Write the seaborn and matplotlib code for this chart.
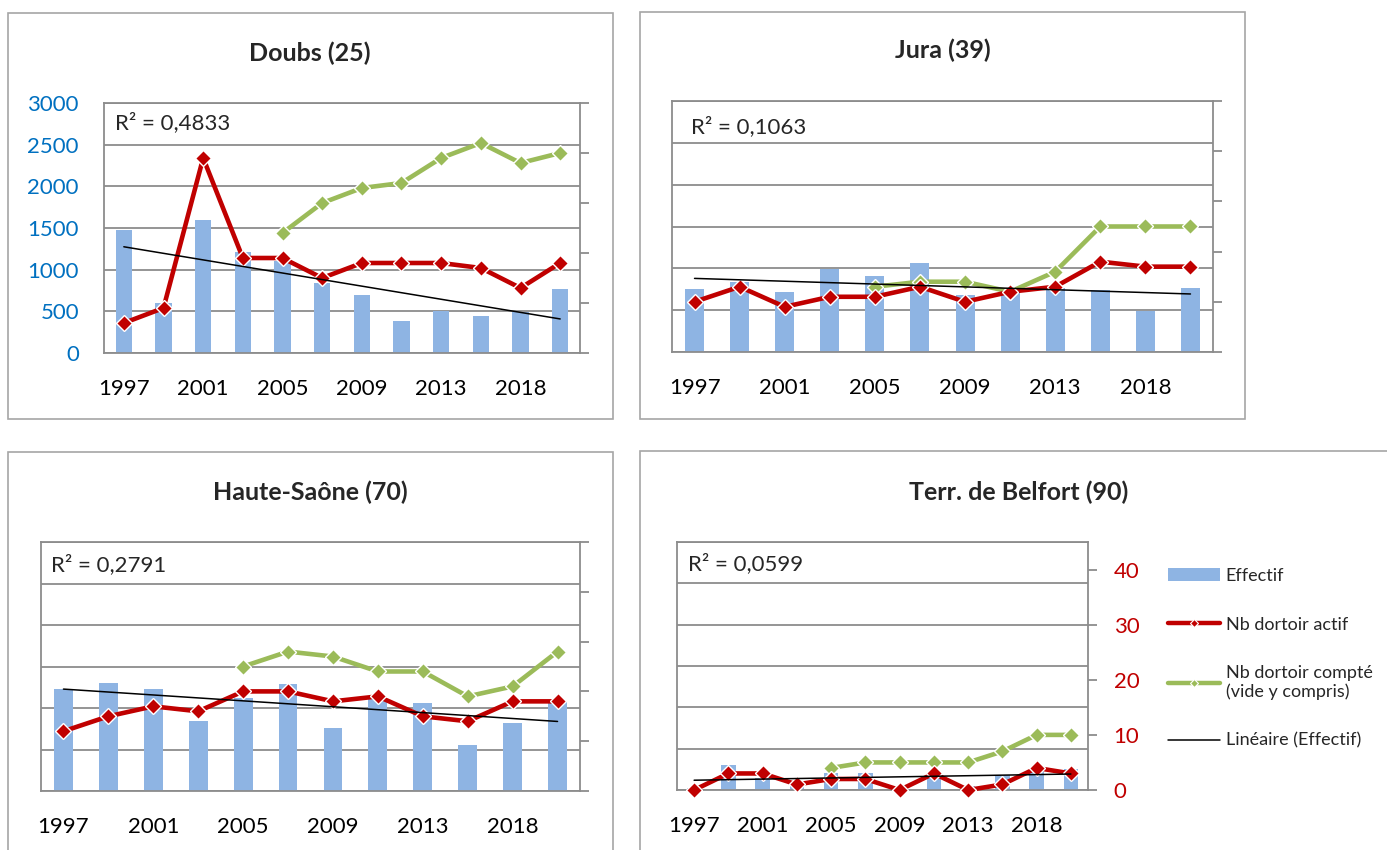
import numpy as np
import pandas as pd
import matplotlib
matplotlib.use("Agg")
import matplotlib.pyplot as plt
import seaborn as sns
from matplotlib.patches import Rectangle
from matplotlib.lines import Line2D

# ---- data -------------------------------------------------------------
years = ["1997", "1999", "2001", "2003", "2005", "2007",
         "2009", "2011", "2013", "2016", "2018", "2020"]

doubs_effectif = [1470, 600, 1590, 1210, 1100, 840, 700, 380, 500, 450, 490, 770]
doubs_actif = [6, 9, 39, 19, 19, 15, 18, 18, 18, 17, 13, 18]
doubs_compte = [np.nan, np.nan, np.nan, np.nan, 24, 30, 33, 34, 39, 42, 38, 40]

jura_effectif = [750, 840, 720, 990, 910, 1060, 680, 720, 770, 740, 490, 770]
jura_actif = [10, 13, 9, 11, 11, 13, 10, 12, 13, 18, 17, 17]
jura_compte = [np.nan, np.nan, np.nan, np.nan, 13, 14, 14, 12, 16, 25, 25, 25]

hs_effectif = [1230, 1300, 1225, 840, 1120, 1285, 760, 1120, 1065, 560, 820, 1070]
hs_actif = [12, 15, 17, 16, 20, 20, 18, 19, 15, 14, 18, 18]
hs_compte = [np.nan, np.nan, np.nan, np.nan, 25, 28, 27, 24, 24, 19, 21, 28]

bel_effectif = [30, 300, 150, 50, 200, 200, 30, 180, 50, 180, 250, 250]
bel_actif = [0, 3, 3, 1, 2, 2, 0, 3, 0, 1, 4, 3]
bel_compte = [np.nan, np.nan, np.nan, np.nan, 4, 5, 5, 5, 5, 7, 10, 10]

# ---- style ------------------------------------------------------------
BLUE = "#8EB4E3"
RED = "#C00000"
GREEN = "#9BBB59"
GRID = "#8C8C8C"
FRAME = "#A6A6A6"

sns.set_style("white")
plt.rcParams['font.family'] = ['Lato', 'DejaVu Sans']

W, H = 1387, 850
fig = plt.figure(figsize=(W / 100, H / 100), dpi=100)


def draw_panel(plot_px, frame_px, title, title_px, effectif, actif, compte,
               r2_text, r2_off, sec_max=50, left_labels=False, right_labels=False):
    # outer chart frame
    fx0, fy0, fx1, fy1 = frame_px
    fig.patches.append(Rectangle((fx0 / W, 1 - fy1 / H), (fx1 - fx0) / W, (fy1 - fy0) / H,
                                 transform=fig.transFigure, fill=False,
                                 ec=FRAME, lw=1.2, zorder=0))
    fig.text(title_px[0] / W, 1 - title_px[1] / H, title, ha="center", va="center",
             fontsize=18, fontweight="bold")

    l, t, r, b = plot_px
    ax = fig.add_axes([l / W, 1 - b / H, (r - l) / W, (b - t) / H])
    pos = np.arange(len(years))

    sns.barplot(x=years, y=effectif, ax=ax, color=BLUE, saturation=1,
                width=0.42, order=years, linewidth=0)
    ax.set_ylim(0, 3000)
    ax.set_yticks(np.arange(0, 3001, 500))
    ax.set_xlim(-0.5, len(years) - 0.5)
    ax.set_axisbelow(True)
    ax.yaxis.grid(True, color=GRID, lw=1.3)
    ax.xaxis.grid(False)
    for s in ax.spines.values():
        s.set_visible(True)
        s.set_color(GRID)
        s.set_linewidth(1.3)
    ax.set_xticks(pos)
    ax.set_xticklabels([y if i % 2 == 0 else "" for i, y in enumerate(years)])
    ax.tick_params(axis="x", length=0, pad=19, labelsize=16, colors="black")
    ax.tick_params(axis="y", length=0, pad=18, labelsize=16, colors="#0070C0",
                   labelleft=left_labels)
    ax.set_xlabel("")
    ax.set_ylabel("")
    ax.text(r2_off[0] / (r - l), 1 - r2_off[1] / (b - t), r2_text,
            transform=ax.transAxes, ha="left", va="center", fontsize=16)

    # secondary axis : nb dortoirs
    ax2 = ax.twinx()
    df_a = pd.DataFrame({"pos": pos, "v": actif}).dropna()
    df_c = pd.DataFrame({"pos": pos, "v": compte}).dropna()
    sns.lineplot(data=df_c, x="pos", y="v", ax=ax2, color=GREEN, lw=3.3,
                 marker="D", ms=8.5, mec="white", mew=1, clip_on=False)
    sns.lineplot(data=df_a, x="pos", y="v", ax=ax2, color=RED, lw=3.3,
                 marker="D", ms=8.5, mec="white", mew=1, clip_on=False)
    ax2.set_ylim(0, sec_max)
    ax2.set_yticks(np.arange(0, sec_max + 0.1, 10))
    ax2.set_xlim(-0.5, len(years) - 0.5)
    for s in ax2.spines.values():
        s.set_visible(False)
    ax2.tick_params(axis="y", direction="out", length=6.5, width=1.3, color=GRID,
                    pad=12, labelsize=16, labelcolor=RED, labelright=right_labels)
    ax2.set_xlabel("")
    ax2.set_ylabel("")

    # linear trend of effectif, drawn on top
    ax3 = ax.twinx()
    coef = np.polyfit(pos, effectif, 1)
    sns.lineplot(x=pos, y=np.polyval(coef, pos), ax=ax3, color="black", lw=1.1)
    ax3.set_ylim(0, 3000)
    ax3.set_xlim(-0.5, len(years) - 0.5)
    ax3.axis("off")
    return ax


draw_panel((104, 103, 580, 353), (8, 13, 613, 419), "Doubs (25)", (310, 53),
           doubs_effectif, doubs_actif, doubs_compte, "R² = 0,4833", (11, 20),
           left_labels=True)
draw_panel((672, 101, 1213, 352), (640, 12, 1245, 419), "Jura (39)", (943, 50),
           jura_effectif, jura_actif, jura_compte, "R² = 0,1063", (19, 26))
draw_panel((41, 542, 580, 791), (8, 452, 613, 862), "Haute-Saône (70)", (310, 492),
           hs_effectif, hs_actif, hs_compte, "R² = 0,2791", (10, 23))
draw_panel((677, 542, 1088, 790), (640, 451, 1395, 862), "Terr. de Belfort (90)", (1019, 492),
           bel_effectif, bel_actif, bel_compte, "R² = 0,0599", (11, 22),
           sec_max=45, right_labels=True)

handles = [
    Rectangle((0, 0), 1, 1, fc=BLUE, ec="none"),
    Line2D([], [], color=RED, lw=3.2, marker="D", ms=4, mec="white", mew=0.8),
    Line2D([], [], color=GREEN, lw=3.2, marker="D", ms=4, mec="white", mew=0.8),
    Line2D([], [], color="black", lw=1.1),
]
labels = ["Effectif", "Nb dortoir actif", "Nb dortoir compté\n(vide y compris)",
          "Linéaire (Effectif)"]
fig.legend(handles, labels, loc="upper left", bbox_to_anchor=(1168 / W, 1 - 568 / H),
           frameon=False, fontsize=13, labelspacing=1.8, handlelength=2.9,
           handletextpad=0.3, borderpad=0, borderaxespad=0, numpoints=1)

fig.savefig("out.png", dpi=100)
